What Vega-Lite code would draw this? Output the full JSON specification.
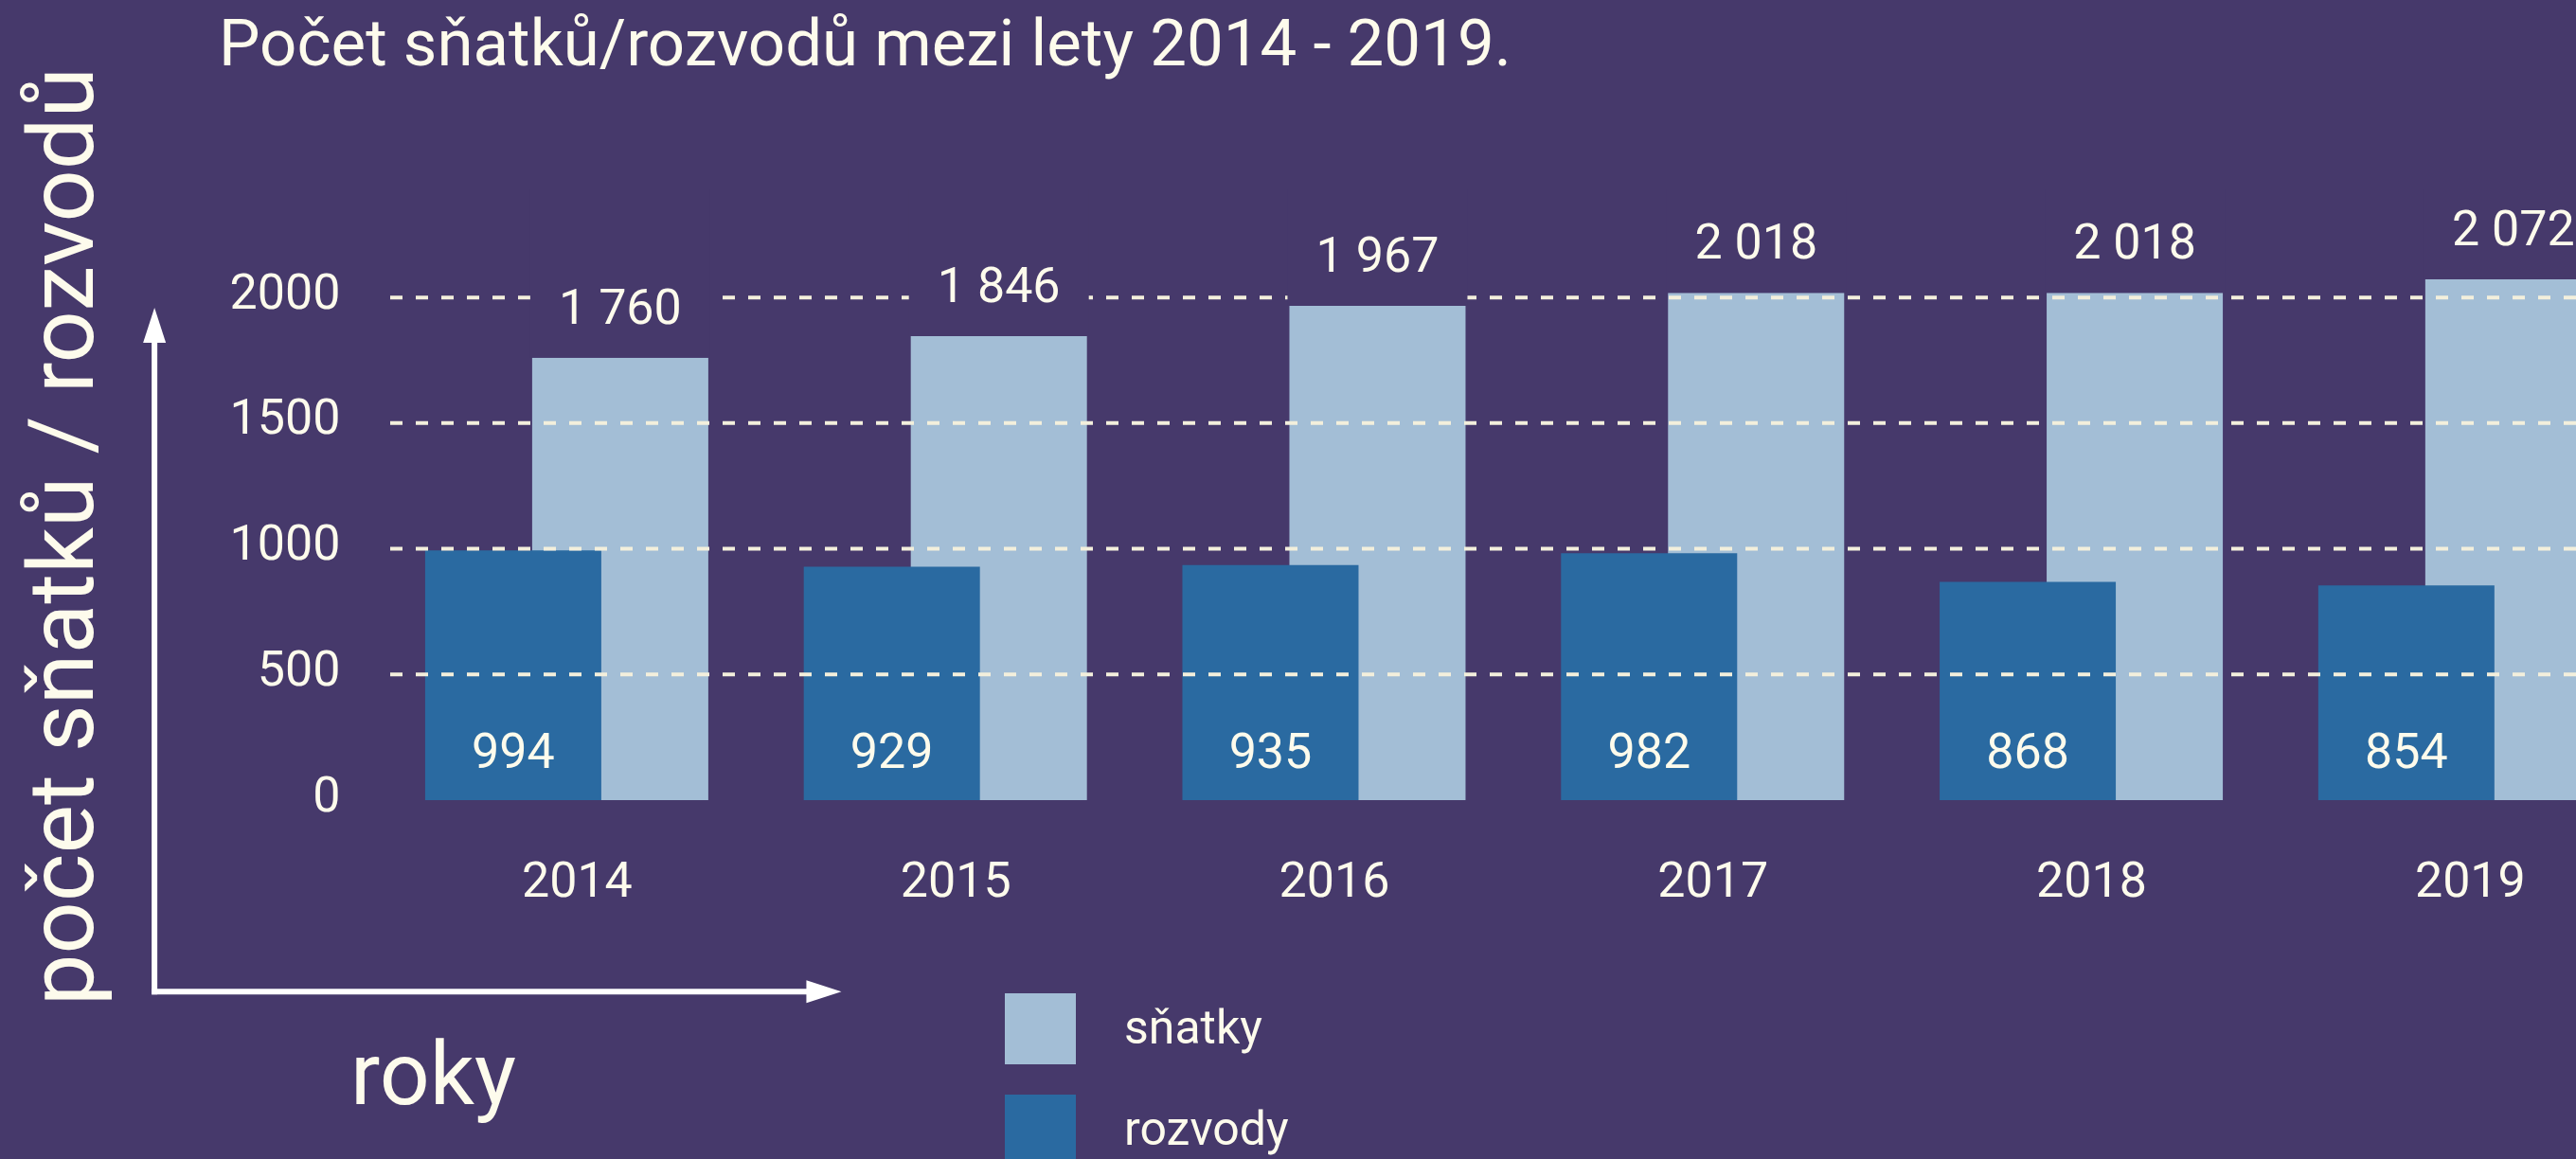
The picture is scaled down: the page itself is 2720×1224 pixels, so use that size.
{
  "$schema": "https://vega.github.io/schema/vega-lite/v6.json",
  "autosize": {"type": "none"},
  "width": 2316,
  "height": 645,
  "padding": {"left": 404, "top": 200, "right": 0, "bottom": 379},
  "background": "#46396b",
  "title": {
    "text": "Počet sňatků/rozvodů mezi lety 2014 - 2019.",
    "anchor": "start",
    "frame": "group",
    "fontSize": 69,
    "fontWeight": "normal",
    "font": "Roboto",
    "color": "#fdfbec",
    "dx": -173,
    "dy": 77,
    "baseline": "alphabetic",
    "offset": 9
  },
  "datasets": {
    "main": [
      {"rok": 2014, "typ": "sňatky", "pocet": 1760},
      {"rok": 2015, "typ": "sňatky", "pocet": 1846},
      {"rok": 2016, "typ": "sňatky", "pocet": 1967},
      {"rok": 2017, "typ": "sňatky", "pocet": 2018},
      {"rok": 2018, "typ": "sňatky", "pocet": 2018},
      {"rok": 2019, "typ": "sňatky", "pocet": 2072},
      {"rok": 2014, "typ": "rozvody", "pocet": 994},
      {"rok": 2015, "typ": "rozvody", "pocet": 929},
      {"rok": 2016, "typ": "rozvody", "pocet": 935},
      {"rok": 2017, "typ": "rozvody", "pocet": 982},
      {"rok": 2018, "typ": "rozvody", "pocet": 868},
      {"rok": 2019, "typ": "rozvody", "pocet": 854}
    ],
    "grid": [{"v": 500}, {"v": 1000}, {"v": 1500}, {"v": 2000}],
    "one": [{}]
  },
  "layer": [
    {
      "data": {"name": "main"},
      "transform": [{"filter": "datum.typ === 'sňatky'"}],
      "mark": {"type": "bar", "width": 186, "xOffset": 46},
      "encoding": {
        "x": {
          "field": "rok", "type": "quantitative",
          "scale": {"domain": [2013.5, 2019.268], "nice": false, "zero": false},
          "axis": {
            "values": [2014, 2015, 2016, 2017, 2018, 2019],
            "format": "d",
            "grid": false, "domain": false, "ticks": false, "tickSize": 0,
            "labelFontSize": 52, "labelColor": "#fdfbec", "labelFont": "Roboto",
            "labelBaseline": "middle", "labelPadding": 85,
            "title": "roky",
            "titleFontSize": 93, "titleFontWeight": "normal", "titleColor": "#fdfbec", "titleFont": "Roboto",
            "titleX": 53, "titleY": 320, "titleAlign": "center", "titleBaseline": "alphabetic",
            "labelFlush": false, "labelOverlap": false
          }
        },
        "y": {
          "field": "pocet", "type": "quantitative",
          "scale": {"domain": [0, 2430], "nice": false, "zero": true},
          "axis": {
            "values": [0, 500, 1000, 1500, 2000],
            "format": "d",
            "grid": false, "domain": false, "ticks": false, "tickSize": 0,
            "labelFontSize": 52, "labelColor": "#fdfbec", "labelFont": "Roboto",
            "labelPadding": 45, "labelBaseline": "middle", "labelOffset": -5,
            "labelFlush": false, "labelOverlap": false,
            "title": "počet sňatků / rozvodů",
            "titleFontSize": 97, "titleFontWeight": "normal", "titleColor": "#fdfbec", "titleFont": "Roboto",
            "titleAngle": -90, "titleX": -307, "titleY": 366, "titleAlign": "center", "titleBaseline": "alphabetic",
            "titleLimit": 2000
          }
        },
        "color": {
          "field": "typ", "type": "nominal",
          "scale": {"domain": ["sňatky", "rozvody"], "range": ["#a3bed6", "#2a6aa1"]},
          "legend": {
            "orient": "none", "legendX": 657, "legendY": 849,
            "title": null, "padding": 0,
            "symbolType": "square", "symbolSize": 5625, "symbolStrokeWidth": 0, "symbolOpacity": 1,
            "labelFontSize": 50, "labelColor": "#fdfbec", "labelFont": "Roboto", "labelLimit": 0,
            "labelOffset": 51, "rowPadding": 32, "labelBaseline": "middle"
          }
        }
      }
    },
    {
      "data": {"name": "main"},
      "transform": [{"filter": "datum.typ === 'rozvody'"}],
      "mark": {"type": "bar", "width": 186, "xOffset": -67},
      "encoding": {
        "x": {"field": "rok", "type": "quantitative"},
        "y": {"field": "pocet", "type": "quantitative"},
        "color": {"field": "typ", "type": "nominal"}
      }
    },
    {
      "data": {"name": "grid"},
      "mark": {"type": "rule", "color": "#f3efdc", "strokeWidth": 4, "strokeDash": [13, 14]},
      "encoding": {
        "y": {"field": "v", "type": "quantitative"}
      }
    },
    {
      "data": {"name": "main"},
      "transform": [{"filter": "datum.typ === 'sňatky'"}],
      "mark": {"type": "bar", "width": 190, "xOffset": 46, "color": "#46396b"},
      "encoding": {
        "x": {"field": "rok", "type": "quantitative"},
        "y": {"field": "pocet", "type": "quantitative"},
        "y2": {"datum": 2430}
      }
    },
    {
      "data": {"name": "main"},
      "transform": [{"filter": "datum.typ === 'sňatky'"}],
      "mark": {"type": "text", "xOffset": 46, "dy": -36, "baseline": "alphabetic", "align": "center", "fontSize": 52, "font": "Roboto", "color": "#fdfbec"},
      "encoding": {
        "x": {"field": "rok", "type": "quantitative"},
        "y": {"field": "pocet", "type": "quantitative"},
        "text": {"field": "pocet", "type": "quantitative", "format": ",d"}
      }
    },
    {
      "data": {"name": "main"},
      "transform": [{"filter": "datum.typ === 'rozvody'"}],
      "mark": {"type": "text", "xOffset": -67, "dy": -34, "baseline": "alphabetic", "align": "center", "fontSize": 52, "font": "Roboto", "color": "#fdfbec"},
      "encoding": {
        "x": {"field": "rok", "type": "quantitative"},
        "y": {"datum": 0},
        "text": {"field": "pocet", "type": "quantitative", "format": ",d"}
      }
    },
    {
      "data": {"name": "one"},
      "mark": {"type": "rule", "color": "#ffffff", "strokeWidth": 6, "strokeCap": "square"},
      "encoding": {
        "x": {"datum": 2012.885},
        "x2": {"datum": 2014.62},
        "y": {"datum": -762}
      }
    },
    {
      "data": {"name": "one"},
      "mark": {"type": "rule", "color": "#ffffff", "strokeWidth": 6, "strokeCap": "square"},
      "encoding": {
        "x": {"datum": 2012.885},
        "y": {"datum": -762},
        "y2": {"datum": 1830}
      }
    },
    {
      "data": {"name": "one"},
      "mark": {"type": "point", "filled": true, "color": "#ffffff", "opacity": 1, "size": 1369, "shape": "M0,-1L0.65,1L-0.65,1Z"},
      "encoding": {
        "x": {"datum": 2012.885},
        "y": {"datum": 1889}
      }
    },
    {
      "data": {"name": "one"},
      "mark": {"type": "point", "filled": true, "color": "#ffffff", "opacity": 1, "size": 1369, "shape": "M1,0L-1,0.65L-1,-0.65Z"},
      "encoding": {
        "x": {"datum": 2014.653},
        "y": {"datum": -762}
      }
    }
  ],
  "config": {
    "font": "Roboto",
    "view": {"stroke": null},
    "locale": {
      "number": {"decimal": ",", "thousands": " ", "grouping": [3], "currency": ["", " Kč"]}
    }
  }
}
